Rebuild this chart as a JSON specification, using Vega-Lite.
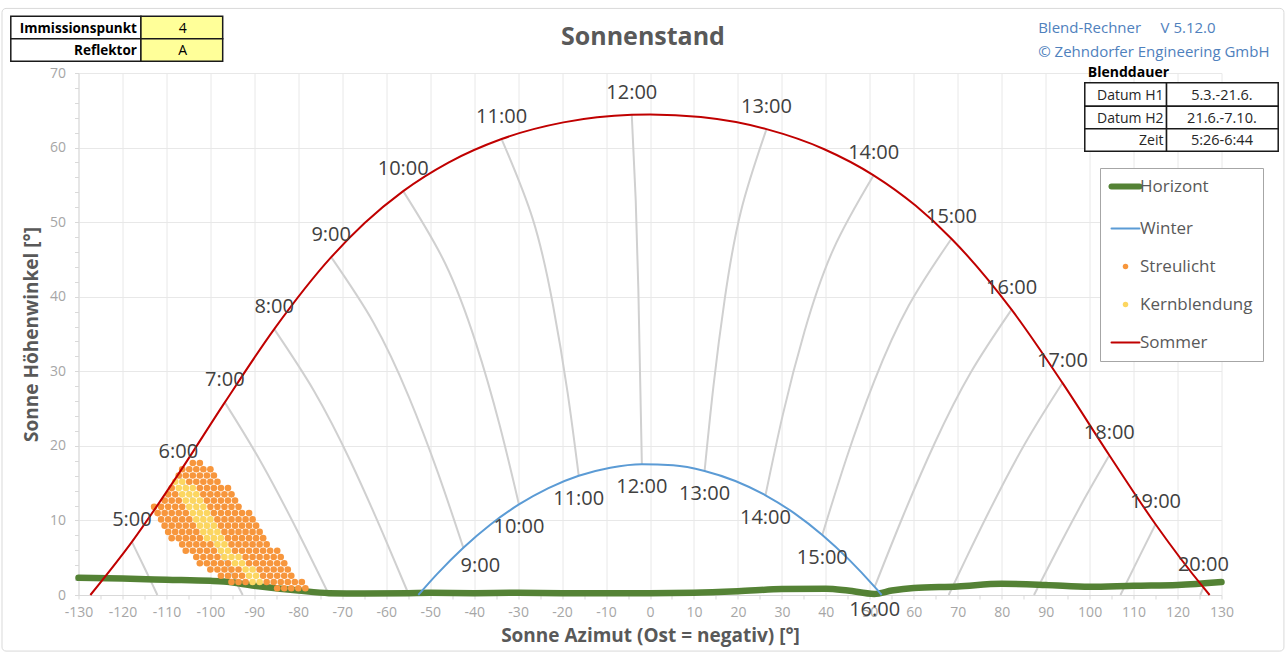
{
"$schema": "https://vega.github.io/schema/vega-lite/v6.json",
"width": 1143, "height": 522,
"autosize": {"type": "none"},
"padding": {"left": 78.5, "top": 73, "right": 65.5, "bottom": 57},
"background": "white",
"datasets": {
"hourlines": [
{"h":5,"az":-117.85,"alt":7.13},{"h":5,"az":-115.66,"alt":4.46},{"h":5,"az":-113.14,"alt":1.35},{"h":5,"az":-112.06,"alt":0},
{"h":6,"az":-107.28,"alt":16.21},{"h":6,"az":-102.11,"alt":10.72},{"h":6,"az":-96.76,"alt":4.73},{"h":6,"az":-92.65,"alt":0},
{"h":7,"az":-96.72,"alt":25.83},{"h":7,"az":-88.22,"alt":17.54},{"h":7,"az":-80.11,"alt":8.49},{"h":7,"az":-76.23,"alt":3.89},{"h":7,"az":-72.99,"alt":0},
{"h":8,"az":-85.48,"alt":35.65},{"h":8,"az":-76.33,"alt":27.27},{"h":8,"az":-68.13,"alt":17.94},{"h":8,"az":-60.79,"alt":8.3},{"h":8,"az":-54.83,"alt":0},
{"h":9,"az":-72.52,"alt":45.3},{"h":9,"az":-62.85,"alt":36.48},{"h":9,"az":-54.86,"alt":26.58},{"h":9,"az":-48.19,"alt":16.31},{"h":9,"az":-42.46,"alt":6.34},
{"h":10,"az":-56.14,"alt":54.16},{"h":10,"az":-46.64,"alt":44.52},{"h":10,"az":-39.62,"alt":33.81},{"h":10,"az":-34.21,"alt":22.79},{"h":10,"az":-29.81,"alt":12.14},
{"h":11,"az":-33.76,"alt":61.15},{"h":11,"az":-26.66,"alt":50.41},{"h":11,"az":-22.06,"alt":38.86},{"h":11,"az":-18.75,"alt":27.18},{"h":11,"az":-16.21,"alt":15.99},
{"h":12,"az":-4.15,"alt":64.4},{"h":12,"az":-3.25,"alt":52.97},{"h":12,"az":-2.65,"alt":40.97},{"h":12,"az":-2.24,"alt":28.97},{"h":12,"az":-1.85,"alt":17.54},
{"h":13,"az":26.5,"alt":62.47},{"h":13,"az":20.69,"alt":51.47},{"h":13,"az":17.01,"alt":39.74},{"h":13,"az":14.42,"alt":27.93},{"h":13,"az":12.42,"alt":16.64},
{"h":14,"az":50.87,"alt":56.28},{"h":14,"az":41.7,"alt":46.35},{"h":14,"az":35.17,"alt":35.4},{"h":14,"az":30.22,"alt":24.19},{"h":14,"az":26.27,"alt":13.37},
{"h":15,"az":68.57,"alt":47.78},{"h":15,"az":58.83,"alt":38.78},{"h":15,"az":51.01,"alt":28.68},{"h":15,"az":44.61,"alt":18.21},{"h":15,"az":39.19,"alt":8.05},
{"h":16,"az":82.25,"alt":38.26},{"h":16,"az":72.93,"alt":29.8},{"h":16,"az":64.75,"alt":20.35},{"h":16,"az":57.54,"alt":10.56},{"h":16,"az":51.1,"alt":1.08},
{"h":17,"az":93.82,"alt":28.44},{"h":17,"az":85.15,"alt":20.15},{"h":17,"az":77.01,"alt":11.06},{"h":17,"az":71.88,"alt":4.87},{"h":17,"az":67.94,"alt":0},
{"h":18,"az":104.48,"alt":18.74},{"h":18,"az":99.2,"alt":13.3},{"h":18,"az":93.77,"alt":7.34},{"h":18,"az":88.49,"alt":1.31},{"h":18,"az":87.35,"alt":0},
{"h":19,"az":114.99,"alt":9.49},{"h":19,"az":111.46,"alt":5.32},{"h":19,"az":107.01,"alt":0},
{"h":20,"az":125.88,"alt":1.01},{"h":20,"az":125.17,"alt":0}
],
"horizon": [
{"az":-130,"alt":2.3},{"az":-120,"alt":2.2},{"az":-110,"alt":2.05},{"az":-100,"alt":1.9},{"az":-97,"alt":1.8},{"az":-90,"alt":1.25},{"az":-80,"alt":0.6},{"az":-73,"alt":0.25},{"az":-65,"alt":0.2},{"az":-55,"alt":0.25},{"az":-50,"alt":0.3},{"az":-40,"alt":0.25},{"az":-30,"alt":0.3},{"az":-20,"alt":0.25},{"az":-10,"alt":0.25},{"az":0,"alt":0.25},{"az":10,"alt":0.3},{"az":20,"alt":0.5},{"az":30,"alt":0.8},{"az":40,"alt":0.85},{"az":45,"alt":0.6},{"az":51,"alt":0.15},{"az":55,"alt":0.6},{"az":60,"alt":0.95},{"az":70,"alt":1.15},{"az":80,"alt":1.5},{"az":90,"alt":1.35},{"az":100,"alt":1.1},{"az":110,"alt":1.25},{"az":120,"alt":1.35},{"az":130,"alt":1.75}
],
"streu": [
{"az":-78.4,"alt":0.9},{"az":-80,"alt":0.9},{"az":-81.6,"alt":0.9},{"az":-83.2,"alt":0.9},{"az":-84.8,"alt":0.9},
{"az":-79.2,"alt":1.74},{"az":-80.8,"alt":1.74},{"az":-82.4,"alt":1.74},{"az":-84,"alt":1.74},{"az":-85.6,"alt":1.74},{"az":-87.2,"alt":1.74},{"az":-92,"alt":1.74},{"az":-93.6,"alt":1.74},{"az":-95.2,"alt":1.74},
{"az":-81.6,"alt":2.58},{"az":-83.2,"alt":2.58},{"az":-84.8,"alt":2.58},{"az":-86.4,"alt":2.58},{"az":-88,"alt":2.58},{"az":-92.8,"alt":2.58},{"az":-94.4,"alt":2.58},{"az":-96,"alt":2.58},{"az":-97.6,"alt":2.58},
{"az":-82.4,"alt":3.42},{"az":-84,"alt":3.42},{"az":-85.6,"alt":3.42},{"az":-87.2,"alt":3.42},{"az":-88.8,"alt":3.42},{"az":-93.6,"alt":3.42},{"az":-95.2,"alt":3.42},{"az":-96.8,"alt":3.42},{"az":-98.4,"alt":3.42},{"az":-100,"alt":3.42},
{"az":-83.2,"alt":4.26},{"az":-84.8,"alt":4.26},{"az":-86.4,"alt":4.26},{"az":-88,"alt":4.26},{"az":-89.6,"alt":4.26},{"az":-91.2,"alt":4.26},{"az":-96,"alt":4.26},{"az":-97.6,"alt":4.26},{"az":-99.2,"alt":4.26},{"az":-100.8,"alt":4.26},{"az":-102.4,"alt":4.26},
{"az":-84,"alt":5.1},{"az":-85.6,"alt":5.1},{"az":-87.2,"alt":5.1},{"az":-88.8,"alt":5.1},{"az":-90.4,"alt":5.1},{"az":-92,"alt":5.1},{"az":-98.4,"alt":5.1},{"az":-100,"alt":5.1},{"az":-101.6,"alt":5.1},{"az":-103.2,"alt":5.1},
{"az":-84.8,"alt":5.94},{"az":-86.4,"alt":5.94},{"az":-88,"alt":5.94},{"az":-89.6,"alt":5.94},{"az":-91.2,"alt":5.94},{"az":-92.8,"alt":5.94},{"az":-94.4,"alt":5.94},{"az":-99.2,"alt":5.94},{"az":-100.8,"alt":5.94},{"az":-102.4,"alt":5.94},{"az":-104,"alt":5.94},{"az":-105.6,"alt":5.94},
{"az":-87.2,"alt":6.78},{"az":-88.8,"alt":6.78},{"az":-90.4,"alt":6.78},{"az":-92,"alt":6.78},{"az":-93.6,"alt":6.78},{"az":-95.2,"alt":6.78},{"az":-100,"alt":6.78},{"az":-101.6,"alt":6.78},{"az":-103.2,"alt":6.78},{"az":-104.8,"alt":6.78},{"az":-106.4,"alt":6.78},
{"az":-88,"alt":7.62},{"az":-89.6,"alt":7.62},{"az":-91.2,"alt":7.62},{"az":-92.8,"alt":7.62},{"az":-94.4,"alt":7.62},{"az":-96,"alt":7.62},{"az":-102.4,"alt":7.62},{"az":-104,"alt":7.62},{"az":-105.6,"alt":7.62},{"az":-107.2,"alt":7.62},{"az":-108.8,"alt":7.62},
{"az":-88.8,"alt":8.46},{"az":-90.4,"alt":8.46},{"az":-92,"alt":8.46},{"az":-93.6,"alt":8.46},{"az":-95.2,"alt":8.46},{"az":-96.8,"alt":8.46},{"az":-103.2,"alt":8.46},{"az":-104.8,"alt":8.46},{"az":-106.4,"alt":8.46},{"az":-108,"alt":8.46},{"az":-109.6,"alt":8.46},
{"az":-89.6,"alt":9.3},{"az":-91.2,"alt":9.3},{"az":-92.8,"alt":9.3},{"az":-94.4,"alt":9.3},{"az":-96,"alt":9.3},{"az":-97.6,"alt":9.3},{"az":-104,"alt":9.3},{"az":-105.6,"alt":9.3},{"az":-107.2,"alt":9.3},{"az":-108.8,"alt":9.3},{"az":-110.4,"alt":9.3},
{"az":-90.4,"alt":10.14},{"az":-92,"alt":10.14},{"az":-93.6,"alt":10.14},{"az":-95.2,"alt":10.14},{"az":-96.8,"alt":10.14},{"az":-98.4,"alt":10.14},{"az":-104.8,"alt":10.14},{"az":-106.4,"alt":10.14},{"az":-108,"alt":10.14},{"az":-109.6,"alt":10.14},{"az":-111.2,"alt":10.14},
{"az":-91.2,"alt":10.98},{"az":-92.8,"alt":10.98},{"az":-94.4,"alt":10.98},{"az":-96,"alt":10.98},{"az":-97.6,"alt":10.98},{"az":-99.2,"alt":10.98},{"az":-105.6,"alt":10.98},{"az":-107.2,"alt":10.98},{"az":-108.8,"alt":10.98},{"az":-110.4,"alt":10.98},{"az":-112,"alt":10.98},
{"az":-93.6,"alt":11.82},{"az":-95.2,"alt":11.82},{"az":-96.8,"alt":11.82},{"az":-98.4,"alt":11.82},{"az":-100,"alt":11.82},{"az":-106.4,"alt":11.82},{"az":-108,"alt":11.82},{"az":-109.6,"alt":11.82},{"az":-111.2,"alt":11.82},{"az":-112.8,"alt":11.82},
{"az":-94.4,"alt":12.66},{"az":-96,"alt":12.66},{"az":-97.6,"alt":12.66},{"az":-99.2,"alt":12.66},{"az":-100.8,"alt":12.66},{"az":-107.2,"alt":12.66},{"az":-108.8,"alt":12.66},{"az":-110.4,"alt":12.66},
{"az":-95.2,"alt":13.5},{"az":-96.8,"alt":13.5},{"az":-98.4,"alt":13.5},{"az":-100,"alt":13.5},{"az":-101.6,"alt":13.5},{"az":-108,"alt":13.5},{"az":-109.6,"alt":13.5},
{"az":-96,"alt":14.34},{"az":-97.6,"alt":14.34},{"az":-99.2,"alt":14.34},{"az":-100.8,"alt":14.34},{"az":-102.4,"alt":14.34},{"az":-108.8,"alt":14.34},
{"az":-98.4,"alt":15.18},{"az":-100,"alt":15.18},{"az":-101.6,"alt":15.18},{"az":-103.2,"alt":15.18},{"az":-104.8,"alt":15.18},
{"az":-99.2,"alt":16.02},{"az":-100.8,"alt":16.02},{"az":-102.4,"alt":16.02},{"az":-104,"alt":16.02},{"az":-105.6,"alt":16.02},{"az":-107.2,"alt":16.02},
{"az":-100,"alt":16.86},{"az":-101.6,"alt":16.86},{"az":-103.2,"alt":16.86},{"az":-104.8,"alt":16.86},{"az":-106.4,"alt":16.86},
{"az":-102.4,"alt":17.7},{"az":-104,"alt":17.7}
],
"kern": [
{"az":-88.8,"alt":1.74},{"az":-90.4,"alt":1.74},
{"az":-89.6,"alt":2.58},{"az":-91.2,"alt":2.58},
{"az":-90.4,"alt":3.42},{"az":-92,"alt":3.42},
{"az":-92.8,"alt":4.26},{"az":-94.4,"alt":4.26},
{"az":-93.6,"alt":5.1},{"az":-95.2,"alt":5.1},{"az":-96.8,"alt":5.1},
{"az":-96,"alt":5.94},{"az":-97.6,"alt":5.94},
{"az":-96.8,"alt":6.78},{"az":-98.4,"alt":6.78},
{"az":-97.6,"alt":7.62},{"az":-99.2,"alt":7.62},{"az":-100.8,"alt":7.62},
{"az":-98.4,"alt":8.46},{"az":-100,"alt":8.46},{"az":-101.6,"alt":8.46},
{"az":-99.2,"alt":9.3},{"az":-100.8,"alt":9.3},{"az":-102.4,"alt":9.3},
{"az":-100,"alt":10.14},{"az":-101.6,"alt":10.14},{"az":-103.2,"alt":10.14},
{"az":-100.8,"alt":10.98},{"az":-102.4,"alt":10.98},{"az":-104,"alt":10.98},
{"az":-101.6,"alt":11.82},{"az":-103.2,"alt":11.82},{"az":-104.8,"alt":11.82},
{"az":-102.4,"alt":12.66},{"az":-104,"alt":12.66},{"az":-105.6,"alt":12.66},
{"az":-103.2,"alt":13.5},{"az":-104.8,"alt":13.5},{"az":-106.4,"alt":13.5},
{"az":-104,"alt":14.34},{"az":-105.6,"alt":14.34},{"az":-107.2,"alt":14.34},
{"az":-106.4,"alt":15.18},{"az":-108,"alt":15.18}
],
"summer": [
{"az":-127.3,"alt":0},{"az":-117.85,"alt":7.13,"t":"5:00"},{"az":-107.28,"alt":16.21,"t":"6:00"},{"az":-96.72,"alt":25.83,"t":"7:00"},{"az":-85.48,"alt":35.65,"t":"8:00"},{"az":-72.52,"alt":45.3,"t":"9:00"},{"az":-64.91,"alt":49.88},{"az":-56.14,"alt":54.16,"t":"10:00"},{"az":-45.85,"alt":57.99},{"az":-33.76,"alt":61.15,"t":"11:00"},{"az":-19.7,"alt":63.38},{"az":-4.15,"alt":64.4,"t":"12:00"},{"az":0,"alt":64.44},{"az":11.57,"alt":64.09},{"az":26.5,"alt":62.47,"t":"13:00"},{"az":39.64,"alt":59.78},{"az":50.87,"alt":56.28,"t":"14:00"},{"az":60.4,"alt":52.22},{"az":68.57,"alt":47.78,"t":"15:00"},{"az":82.25,"alt":38.26,"t":"16:00"},{"az":93.82,"alt":28.44,"t":"17:00"},{"az":104.48,"alt":18.74,"t":"18:00"},{"az":114.99,"alt":9.49,"t":"19:00"},{"az":125.88,"alt":1.01,"t":"20:00"},{"az":127.3,"alt":0}
],
"winter": [
{"az":-52.7,"alt":0},{"az":-48.4,"alt":2.83},{"az":-42.46,"alt":6.34,"t":"9:00"},{"az":-36.27,"alt":9.46},{"az":-29.81,"alt":12.14,"t":"10:00"},{"az":-23.1,"alt":14.34},{"az":-16.21,"alt":15.99,"t":"11:00"},{"az":-9.04,"alt":17.07},{"az":-1.85,"alt":17.54,"t":"12:00"},{"az":5.26,"alt":17.4},{"az":12.42,"alt":16.64,"t":"13:00"},{"az":19.42,"alt":15.29},{"az":26.27,"alt":13.37,"t":"14:00"},{"az":32.87,"alt":10.95},{"az":39.19,"alt":8.05,"t":"15:00"},{"az":45.27,"alt":4.74},{"az":51.1,"alt":1.08,"t":"16:00"},{"az":52.7,"alt":0}
]
},
"layer": [
{"data": {"name": "hourlines"},
 "mark": {"type": "line", "color": "#D0D0D0", "strokeWidth": 2, "interpolate": "natural"},
 "encoding": {
  "x": {"field": "az", "type": "quantitative", "scale": {"domain": [-130, 130], "nice": false, "zero": false},
   "axis": {"title": "Sonne Azimut (Ost = negativ) [°]", "values": [-130,-125,-120,-115,-110,-105,-100,-95,-90,-85,-80,-75,-70,-65,-60,-55,-50,-45,-40,-35,-30,-25,-20,-15,-10,-5,0,5,10,15,20,25,30,35,40,45,50,55,60,65,70,75,80,85,90,95,100,105,110,115,120,125,130],
    "tickCount": 200,
    "labelExpr": "datum.value % 10 === 0 ? '' + datum.value : ''", "labelOverlap": false, "labelFlush": false,
    "gridOpacity": {"condition": {"test": "datum.value % 10 === 0", "value": 1}, "value": 0},
    "labelPadding": 6, "titlePadding": 7}},
  "y": {"field": "alt", "type": "quantitative", "scale": {"domain": [0, 70], "nice": false, "zero": false},
   "axis": {"title": "Sonne Höhenwinkel [°]", "values": [0,2,4,6,8,10,12,14,16,18,20,22,24,26,28,30,32,34,36,38,40,42,44,46,48,50,52,54,56,58,60,62,64,66,68,70],
    "tickCount": 200,
    "labelExpr": "datum.value % 10 === 0 ? '' + datum.value : ''", "labelOverlap": false,
    "gridOpacity": {"condition": {"test": "datum.value % 10 === 0", "value": 1}, "value": 0},
    "labelPadding": 9, "titlePadding": 8}},
  "detail": {"field": "h", "type": "nominal"}
 }},
{"data": {"name": "horizon"},
 "mark": {"type": "line", "strokeWidth": 6.5, "interpolate": "monotone", "strokeCap": "round"},
 "encoding": {
  "x": {"field": "az", "type": "quantitative"},
  "y": {"field": "alt", "type": "quantitative"},
  "color": {"datum": "Horizont",
   "scale": {"domain": ["Horizont", "Winter", "Streulicht", "Kernblendung", "Sommer"], "range": ["#548235", "#5B9BD5", "#F7963C", "#FCD660", "#C00000"]},
   "legend": {"orient": "none", "legendX": 1021.5, "legendY": 95, "title": null, "padding": 10,
    "strokeColor": "#A6A6A6", "fillColor": "#FFFFFF",
    "labelFont": "Open Sans", "labelFontSize": 17, "labelColor": "#595959", "labelOffset": 6,
    "symbolSize": 784, "symbolType": "stroke", "symbolOffset": 7, "rowPadding": 20,
    "encode": {"symbols": {"update": {
     "shape": {"signal": "datum.value === 'Streulicht' || datum.value === 'Kernblendung' ? 'circle' : 'stroke'"},
     "size": {"signal": "datum.value === 'Streulicht' || datum.value === 'Kernblendung' ? 30 : 784"},
     "strokeWidth": {"signal": "datum.value === 'Horizont' ? 6 : (datum.value === 'Streulicht' || datum.value === 'Kernblendung' ? 0 : 2)"},
     "stroke": {"signal": "scale('color', datum.value)"},
     "fill": {"signal": "scale('color', datum.value)"},
     "strokeCap": {"value": "round"},
     "opacity": {"value": 1}, "fillOpacity": {"value": 1}, "strokeOpacity": {"value": 1}}}}}}
 }},
{"data": {"name": "streu"},
 "mark": {"type": "point", "filled": true, "size": 44, "opacity": 1},
 "encoding": {"x": {"field": "az", "type": "quantitative"}, "y": {"field": "alt", "type": "quantitative"}, "color": {"datum": "Streulicht"}}},
{"data": {"name": "kern"},
 "mark": {"type": "point", "filled": true, "size": 44, "opacity": 1},
 "encoding": {"x": {"field": "az", "type": "quantitative"}, "y": {"field": "alt", "type": "quantitative"}, "color": {"datum": "Kernblendung"}}},
{"data": {"name": "summer"},
 "mark": {"type": "line", "strokeWidth": 2, "interpolate": "monotone"},
 "encoding": {"x": {"field": "az", "type": "quantitative"}, "y": {"field": "alt", "type": "quantitative"}, "color": {"datum": "Sommer"}}},
{"data": {"name": "winter"},
 "mark": {"type": "line", "strokeWidth": 2, "interpolate": "monotone"},
 "encoding": {"x": {"field": "az", "type": "quantitative"}, "y": {"field": "alt", "type": "quantitative"}, "color": {"datum": "Winter"}}},
{"data": {"name": "summer"}, "transform": [{"filter": "isValid(datum.t)"}],
 "mark": {"type": "text", "font": "Open Sans", "fontSize": 20, "color": "#404040", "dy": -22, "align": "center", "baseline": "middle"},
 "encoding": {"x": {"field": "az", "type": "quantitative"}, "y": {"field": "alt", "type": "quantitative"}, "text": {"field": "t"}}},
{"data": {"name": "winter"}, "transform": [{"filter": "isValid(datum.t) && datum.t !== '9:00'"}],
 "mark": {"type": "text", "font": "Open Sans", "fontSize": 20, "color": "#404040", "dy": 23, "align": "center", "baseline": "middle"},
 "encoding": {"x": {"field": "az", "type": "quantitative"}, "y": {"field": "alt", "type": "quantitative"}, "text": {"field": "t"}}},
{"data": {"name": "winter"}, "transform": [{"filter": "datum.t === '9:00'"}],
 "mark": {"type": "text", "font": "Open Sans", "fontSize": 20, "color": "#404040", "dx": 17, "dy": 18, "align": "center", "baseline": "middle"},
 "encoding": {"x": {"field": "az", "type": "quantitative"}, "y": {"field": "alt", "type": "quantitative"}, "text": {"field": "t"}}},

{"data": {"values": [{"t": "Sonnenstand"}]}, "mark": {"type": "text", "font": "Open Sans", "fontSize": 25, "fontWeight": "bold", "color": "#595959", "align": "center", "baseline": "middle"},
 "encoding": {"x": {"datum": -1.6}, "y": {"datum": 74.77}, "text": {"field": "t"}}},

{"data": {"values": [{}]}, "mark": {"type": "rect", "fill": "#FFFFFF", "stroke": "#1A1A1A", "strokeWidth": 1.5},
 "encoding": {"x": {"datum": -145.4}, "x2": {"datum": -115.8}, "y": {"datum": 77.62}, "y2": {"datum": 74.59}}},
{"data": {"values": [{}]}, "mark": {"type": "rect", "fill": "#FFFF99", "stroke": "#1A1A1A", "strokeWidth": 1.5},
 "encoding": {"x": {"datum": -115.8}, "x2": {"datum": -97.2}, "y": {"datum": 77.62}, "y2": {"datum": 74.59}}},
{"data": {"values": [{}]}, "mark": {"type": "rect", "fill": "#FFFFFF", "stroke": "#1A1A1A", "strokeWidth": 1.5},
 "encoding": {"x": {"datum": -145.4}, "x2": {"datum": -115.8}, "y": {"datum": 74.59}, "y2": {"datum": 71.58}}},
{"data": {"values": [{}]}, "mark": {"type": "rect", "fill": "#FFFF99", "stroke": "#1A1A1A", "strokeWidth": 1.5},
 "encoding": {"x": {"datum": -115.8}, "x2": {"datum": -97.2}, "y": {"datum": 74.59}, "y2": {"datum": 71.58}}},
{"data": {"values": [{"t": "Immissionspunkt"}]}, "mark": {"type": "text", "font": "Open Sans", "fontSize": 13.5, "fontWeight": "bold", "color": "#000000", "align": "right", "baseline": "middle"},
 "encoding": {"x": {"datum": -116.7}, "y": {"datum": 75.84}, "text": {"field": "t"}}},
{"data": {"values": [{"t": "Reflektor"}]}, "mark": {"type": "text", "font": "Open Sans", "fontSize": 13.5, "fontWeight": "bold", "color": "#000000", "align": "right", "baseline": "middle"},
 "encoding": {"x": {"datum": -116.7}, "y": {"datum": 72.93}, "text": {"field": "t"}}},
{"data": {"values": [{"t": "4"}]}, "mark": {"type": "text", "font": "Open Sans", "fontSize": 14, "color": "#000000", "align": "center", "baseline": "middle"},
 "encoding": {"x": {"datum": -106.3}, "y": {"datum": 75.84}, "text": {"field": "t"}}},
{"data": {"values": [{"t": "A"}]}, "mark": {"type": "text", "font": "Open Sans", "fontSize": 14, "color": "#000000", "align": "center", "baseline": "middle"},
 "encoding": {"x": {"datum": -106.3}, "y": {"datum": 72.93}, "text": {"field": "t"}}},

{"data": {"values": [{"t": "Blend-Rechner\u00a0\u00a0\u00a0\u00a0\u00a0V 5.12.0"}]}, "mark": {"type": "text", "font": "Open Sans", "fontSize": 15, "color": "#4F81BD", "align": "left", "baseline": "middle"},
 "encoding": {"x": {"datum": 88.3}, "y": {"datum": 76.07}, "text": {"field": "t"}}},
{"data": {"values": [{"t": "© Zehndorfer Engineering GmbH"}]}, "mark": {"type": "text", "font": "Open Sans", "fontSize": 15, "color": "#4F81BD", "align": "left", "baseline": "middle"},
 "encoding": {"x": {"datum": 88.3}, "y": {"datum": 72.79}, "text": {"field": "t"}}},
{"data": {"values": [{"t": "Blenddauer"}]}, "mark": {"type": "text", "font": "Open Sans", "fontSize": 14, "fontWeight": "bold", "color": "#000000", "align": "left", "baseline": "middle"},
 "encoding": {"x": {"datum": 99.6}, "y": {"datum": 70.0}, "text": {"field": "t"}}},
{"data": {"values": [{}]}, "mark": {"type": "rect", "fill": "#FFFFFF", "stroke": "#1A1A1A", "strokeWidth": 1.5},
 "encoding": {"x": {"datum": 98.9}, "x2": {"datum": 117.5}, "y": {"datum": 68.68}, "y2": {"datum": 65.54}}},
{"data": {"values": [{}]}, "mark": {"type": "rect", "fill": "#FFFFFF", "stroke": "#1A1A1A", "strokeWidth": 1.5},
 "encoding": {"x": {"datum": 117.5}, "x2": {"datum": 142.9}, "y": {"datum": 68.68}, "y2": {"datum": 65.54}}},
{"data": {"values": [{}]}, "mark": {"type": "rect", "fill": "#FFFFFF", "stroke": "#1A1A1A", "strokeWidth": 1.5},
 "encoding": {"x": {"datum": 98.9}, "x2": {"datum": 117.5}, "y": {"datum": 65.54}, "y2": {"datum": 62.51}}},
{"data": {"values": [{}]}, "mark": {"type": "rect", "fill": "#FFFFFF", "stroke": "#1A1A1A", "strokeWidth": 1.5},
 "encoding": {"x": {"datum": 117.5}, "x2": {"datum": 142.9}, "y": {"datum": 65.54}, "y2": {"datum": 62.51}}},
{"data": {"values": [{}]}, "mark": {"type": "rect", "fill": "#FFFFFF", "stroke": "#1A1A1A", "strokeWidth": 1.5},
 "encoding": {"x": {"datum": 98.9}, "x2": {"datum": 117.5}, "y": {"datum": 62.51}, "y2": {"datum": 59.5}}},
{"data": {"values": [{}]}, "mark": {"type": "rect", "fill": "#FFFFFF", "stroke": "#1A1A1A", "strokeWidth": 1.5},
 "encoding": {"x": {"datum": 117.5}, "x2": {"datum": 142.9}, "y": {"datum": 62.51}, "y2": {"datum": 59.5}}},
{"data": {"values": [{"t": "Datum H1"}]}, "mark": {"type": "text", "font": "Open Sans", "fontSize": 14, "color": "#262626", "align": "right", "baseline": "middle"},
 "encoding": {"x": {"datum": 116.8}, "y": {"datum": 66.98}, "text": {"field": "t"}}},
{"data": {"values": [{"t": "Datum H2"}]}, "mark": {"type": "text", "font": "Open Sans", "fontSize": 14, "color": "#262626", "align": "right", "baseline": "middle"},
 "encoding": {"x": {"datum": 116.8}, "y": {"datum": 63.89}, "text": {"field": "t"}}},
{"data": {"values": [{"t": "Zeit"}]}, "mark": {"type": "text", "font": "Open Sans", "fontSize": 14, "color": "#262626", "align": "right", "baseline": "middle"},
 "encoding": {"x": {"datum": 116.8}, "y": {"datum": 60.87}, "text": {"field": "t"}}},
{"data": {"values": [{"t": "5.3.-21.6."}]}, "mark": {"type": "text", "font": "Open Sans", "fontSize": 14.5, "color": "#262626", "align": "center", "baseline": "middle"},
 "encoding": {"x": {"datum": 130.1}, "y": {"datum": 66.98}, "text": {"field": "t"}}},
{"data": {"values": [{"t": "21.6.-7.10."}]}, "mark": {"type": "text", "font": "Open Sans", "fontSize": 14.5, "color": "#262626", "align": "center", "baseline": "middle"},
 "encoding": {"x": {"datum": 130.1}, "y": {"datum": 63.89}, "text": {"field": "t"}}},
{"data": {"values": [{"t": "5:26-6:44"}]}, "mark": {"type": "text", "font": "Open Sans", "fontSize": 14.5, "color": "#262626", "align": "center", "baseline": "middle"},
 "encoding": {"x": {"datum": 130.1}, "y": {"datum": 60.87}, "text": {"field": "t"}}},
{"data": {"values": [{}]}, "mark": {"type": "rect", "fill": null, "fillOpacity": 0, "stroke": "#D9D9D9", "strokeWidth": 1, "cornerRadius": 4},
 "encoding": {"x": {"datum": -147.4}, "x2": {"datum": 144.2}, "y": {"datum": 78.66}, "y2": {"datum": -7.52}}}
],
"config": {
 "view": {"stroke": null},
 "font": "Open Sans",
 "axis": {"domainColor": "#D9D9D9", "tickColor": "#D9D9D9", "tickSize": 4, "gridColor": "#E8E8E8",
  "labelColor": "#A6A6A6", "labelFont": "Open Sans", "labelFontSize": 14,
  "titleFont": "Open Sans", "titleFontSize": 19, "titleFontWeight": "bold", "titleColor": "#595959"}
}
}
